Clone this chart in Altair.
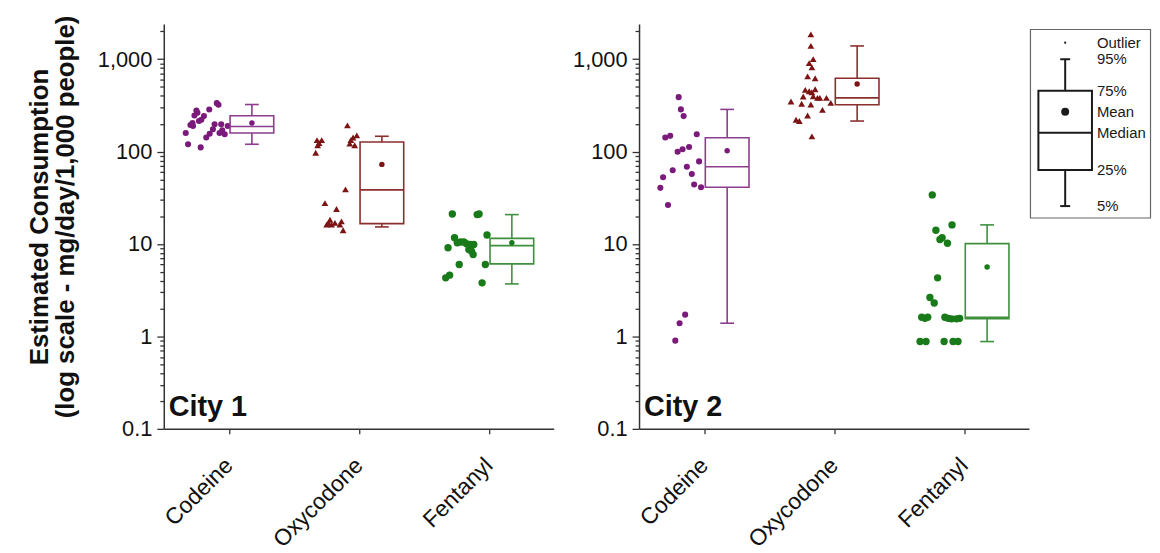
import altair as alt
import pandas as pd

DRUGS = ["Codeine", "Oxycodone", "Fentanyl"]

# ---- City 1 sample values (mg/day/1,000 people) and horizontal jitter (category units)
c1_codeine_vals = [334, 321, 285, 278, 263, 246, 242, 221, 214, 204, 194, 189, 197, 197, 189, 174, 170, 159, 154, 156, 159, 142, 120, 111]
c1_codeine_jit = [-0.092, -0.079, -0.150, -0.249, -0.241, -0.264, -0.191, -0.211, -0.229, -0.279, -0.295, -0.275, -0.109, -0.058, -0.008, -0.122, -0.050, -0.071, -0.031, -0.147, -0.331, -0.173, -0.313, -0.216]
c1_oxy_vals = [192, 133, 133, 124, 117, 97, 142, 133, 150, 122, 117, 39, 27.7, 23.9, 18.3, 16.9, 16.2, 16.9, 16.2, 17.6, 14.1, 16.2]
c1_oxy_jit = [-0.087, -0.321, -0.285, -0.305, -0.316, -0.331, -0.044, -0.061, -0.015, -0.069, -0.031, -0.102, -0.260, -0.171, -0.221, -0.234, -0.209, -0.183, -0.145, -0.133, -0.120, -0.247]
c1_fent_vals = [21.1, 20.8, 21.1, 12.5, 11.7, 10.3, 10.5, 10.5, 10.05, 9.9, 9.9, 8.7, 8.4, 7.7, 9.1, 6.0, 6.0, 4.6, 4.3, 3.8]
c1_fent_jit = [-0.280, -0.089, -0.074, -0.013, -0.263, -0.242, -0.217, -0.191, -0.171, -0.140, -0.115, -0.153, -0.133, -0.120, -0.313, -0.227, -0.026, -0.301, -0.331, -0.051]

# ---- City 2
c2_codeine_vals = [388, 286, 242, 142, 148, 154, 99.5, 106, 112, 78.3, 62.7, 68.6, 57.2, 52.7, 40.5, 44, 41.1, 26.4, 1.72, 1.39, 0.90]
c2_codeine_jit = [-0.195, -0.178, -0.157, -0.298, -0.260, -0.056, -0.203, -0.165, -0.115, -0.038, -0.241, -0.132, -0.094, -0.315, -0.336, -0.076, -0.023, -0.277, -0.145, -0.188, -0.221]
c2_oxy_vals = [1857, 1390, 1000, 906, 815, 652, 621, 465, 450, 439, 473, 394, 397, 381, 381, 381, 348, 329, 323, 337, 283, 246, 221, 214, 146]
c2_oxy_jit = [-0.178, -0.178, -0.160, -0.191, -0.170, -0.203, -0.145, -0.221, -0.191, -0.170, -0.145, -0.237, -0.160, -0.127, -0.109, -0.058, -0.331, -0.249, -0.178, -0.025, -0.089, -0.203, -0.292, -0.267, -0.170]
c2_fent_vals = [34.0, 14.1, 16.1, 11.2, 11.7, 10.2, 4.3, 2.64, 2.30, 1.61, 1.57, 1.61, 1.61, 1.57, 1.55, 1.55, 1.57, 0.88, 0.88, 0.88, 0.88, 0.88]
c2_fent_jit = [-0.244, -0.216, -0.092, -0.185, -0.168, -0.127, -0.203, -0.262, -0.229, -0.325, -0.300, -0.279, -0.147, -0.122, -0.096, -0.058, -0.033, -0.338, -0.292, -0.153, -0.084, -0.046]

# ---- Box statistics: [5%, 25%, median, 75%, 95%, mean]
STAT_NAMES = ["p5", "p25", "median", "p75", "p95", "mean"]
c1_codeine_box = [120, 159, 187, 244, 323, 204]
c1_oxy_box = [15.3, 16.6, 38.5, 127, 146.5, 72.7]
c1_fent_box = [3.7, 6.1, 9.6, 11.5, 20.8, 10.3]
c2_codeine_box = [1.39, 41.1, 68.6, 141, 286, 102]
c2_oxy_box = [214, 321, 381, 621, 1390, 539]
c2_fent_box = [0.88, 1.55, 1.61, 10.1, 16.1, 5.65]

# ---- legend key labels
LEGEND_LABELS = ["Outlier", "95%", "75%", "Mean", "Median", "25%", "5%"]

# ---- styles / layout
PT_COLORS = ["#7a1a7a", "#7d1414", "#197a19"]
BOX_COLORS = ["#8c3d8c", "#8b2e2e", "#3f8f3f"]
SHAPES = ["circle", "triangle-up", "circle"]
PT_SIZES = [38, 55, 38]
FONT = "Liberation Sans"
W = 393
H = 408
BOX_OFF = 0.178
BOX_HALF = 0.168
CAP_HALF = 0.053
# legend key geometry (pixels, relative to the right panel's plot origin)
LG_X0 = W + 1.5
LG_FRAME = (0, 121, 5.5, 195.5)          # x0, x1, y0, y1
LG_BOX = (8, 62)                         # box left/right
LG_CX = 35
LG_CAP = 5
LG_ROWS = [18.8, 35.5, 67.2, 88.5, 109.5, 147.2, 183.5]  # outlier,95,75,mean,median,25,5
LG_TEXT_X = 67

city_data = {
    "City 1": {
        "pts": [(c1_codeine_vals, c1_codeine_jit), (c1_oxy_vals, c1_oxy_jit), (c1_fent_vals, c1_fent_jit)],
        "box": [c1_codeine_box, c1_oxy_box, c1_fent_box],
    },
    "City 2": {
        "pts": [(c2_codeine_vals, c2_codeine_jit), (c2_oxy_vals, c2_oxy_jit), (c2_fent_vals, c2_fent_jit)],
        "box": [c2_codeine_box, c2_oxy_box, c2_fent_box],
    },
}

ytick_vals = [m * 10.0 ** e for e in range(-1, 4) for m in range(1, 10)]
ytick_vals = [v for v in ytick_vals if v <= 2400]
is_decade = "abs(log(datum.value)/LN10 - round(log(datum.value)/LN10)) < 0.001"

label_expr = "[" + ",".join("'%s'" % d for d in DRUGS) + "][round(datum.value)]"

xscale = alt.Scale(domain=[-0.5, 2.5], nice=False, zero=False)
yscale = alt.Scale(type="log", domain=[0.1, 2400], nice=False)
pt_color = alt.Scale(domain=DRUGS, range=PT_COLORS)
box_color = alt.Scale(domain=DRUGS, range=BOX_COLORS)
one = pd.DataFrame({"k": [0]})
K = "#1a1a1a"


def legend_layers():
    x = lambda v: alt.value(LG_X0 + v)
    y = lambda v: alt.value(v)
    fx0, fx1, fy0, fy1 = LG_FRAME
    bx0, bx1 = LG_BOX
    r_out, r95, r75, r_mean, r_med, r25, r5 = LG_ROWS
    base = alt.Chart(one)
    layers = [
        base.mark_rect(fillOpacity=0, stroke="#666666", strokeWidth=1.2).encode(x=x(fx0), x2=x(fx1), y=y(fy0), y2=y(fy1)),
        base.mark_rect(fillOpacity=0, stroke=K, strokeWidth=2).encode(x=x(bx0), x2=x(bx1), y=y(r75), y2=y(r25)),
        base.mark_rule(color=K, strokeWidth=2).encode(x=x(bx0), x2=x(bx1), y=y(r_med)),
        base.mark_rule(color=K, strokeWidth=2).encode(x=x(LG_CX), y=y(r95), y2=y(r75)),
        base.mark_rule(color=K, strokeWidth=2).encode(x=x(LG_CX), y=y(r25), y2=y(r5)),
        base.mark_rule(color=K, strokeWidth=2).encode(x=x(LG_CX - LG_CAP), x2=x(LG_CX + LG_CAP), y=y(r95)),
        base.mark_rule(color=K, strokeWidth=2).encode(x=x(LG_CX - LG_CAP), x2=x(LG_CX + LG_CAP), y=y(r5)),
        base.mark_point(filled=True, color=K, size=64, opacity=1).encode(x=x(LG_CX), y=y(r_mean)),
        base.mark_point(filled=True, color=K, size=5, opacity=1).encode(x=x(LG_CX), y=y(r_out)),
    ]
    for lab, row in zip(LEGEND_LABELS, LG_ROWS):
        layers.append(
            alt.Chart(pd.DataFrame({"t": [lab]})).mark_text(
                align="left", baseline="middle", fontSize=15, font=FONT, color=K
            ).encode(text="t:N", x=x(LG_TEXT_X), y=y(row))
        )
    return layers


def make_city(city, with_title, with_legend):
    d = city_data[city]
    rows = []
    for i, drug in enumerate(DRUGS):
        vals, jit = d["pts"][i]
        for v, j in zip(vals, jit):
            rows.append({"drug": drug, "value": v, "x": i + j})
    pts = pd.DataFrame(rows)
    brows = []
    for i, drug in enumerate(DRUGS):
        rec = dict(zip(STAT_NAMES, d["box"][i]))
        rec["drug"] = drug
        rec["cx"] = i + BOX_OFF
        rec["x0"] = i + BOX_OFF - BOX_HALF
        rec["x1"] = i + BOX_OFF + BOX_HALF
        rec["c0"] = i + BOX_OFF - CAP_HALF
        rec["c1"] = i + BOX_OFF + CAP_HALF
        brows.append(rec)
    box = pd.DataFrame(brows)

    yaxis = alt.Axis(
        values=ytick_vals,
        labelExpr=is_decade + " ? format(datum.value, ',') : ''",
        tickSize={"condition": {"test": is_decade, "value": 7}, "value": 4},
        labelOverlap=False,
        grid=False,
        labelPadding=5,
        title=["Estimated Consumption", "(log scale - mg/day/1,000 people)"] if with_title else None,
        titleFontSize=26,
        titleLineHeight=26,
        titleFontWeight="bold",
        titlePadding=19,
        titleY=194,
        titleColor="#111111",
    )
    xaxis = alt.Axis(
        values=[0, 1, 2],
        labelExpr=label_expr,
        labelAngle=-45,
        labelAlign="right",
        labelBaseline="middle",
        labelFontSize=23,
        tickSize=5,
        labelPadding=28,
        grid=False,
        title=None,
    )

    base_b = alt.Chart(box)
    points = alt.Chart(pts).mark_point(filled=True, opacity=1).encode(
        x=alt.X("x:Q", scale=xscale, axis=xaxis),
        y=alt.Y("value:Q", scale=yscale, axis=yaxis),
        color=alt.Color("drug:N", scale=pt_color, legend=None),
        shape=alt.Shape("drug:N", scale=alt.Scale(domain=DRUGS, range=SHAPES), legend=None),
        size=alt.Size("drug:N", scale=alt.Scale(domain=DRUGS, range=PT_SIZES), legend=None),
    )
    stroke = alt.Stroke("drug:N", scale=box_color, legend=None)
    rect = base_b.mark_rect(fillOpacity=0, strokeWidth=1.6).encode(
        x="x0:Q", x2="x1:Q", y="p25:Q", y2="p75:Q", stroke=stroke)
    med = base_b.mark_rule(strokeWidth=1.6).encode(x="x0:Q", x2="x1:Q", y="median:Q", stroke=stroke)
    wh_up = base_b.mark_rule(strokeWidth=1.6).encode(x="cx:Q", y="p75:Q", y2="p95:Q", stroke=stroke)
    wh_dn = base_b.mark_rule(strokeWidth=1.6).encode(x="cx:Q", y="p5:Q", y2="p25:Q", stroke=stroke)
    cap_up = base_b.mark_rule(strokeWidth=1.6).encode(x="c0:Q", x2="c1:Q", y="p95:Q", stroke=stroke)
    cap_dn = base_b.mark_rule(strokeWidth=1.6).encode(x="c0:Q", x2="c1:Q", y="p5:Q", stroke=stroke)
    mean = base_b.mark_point(filled=True, size=30, opacity=1).encode(
        x="cx:Q", y="mean:Q", color=alt.Color("drug:N", scale=pt_color, legend=None))
    label = alt.Chart(pd.DataFrame({"t": [city]})).mark_text(
        align="left", baseline="alphabetic", fontSize=29, fontWeight="bold", font=FONT, color="#111111"
    ).encode(text="t:N", x=alt.value(5), y=alt.value(395.5))
    layers = [points, rect, med, wh_up, wh_dn, cap_up, cap_dn, mean, label]
    if with_legend:
        layers += legend_layers()
    return alt.layer(*layers).properties(width=W, height=H)


c1 = make_city("City 1", True, False)
c2 = make_city("City 2", False, True)

chart = alt.hconcat(c1, c2, spacing=86, bounds="flush").properties(
    padding={"left": 18, "top": 4, "right": 0, "bottom": 0}
).configure(font=FONT).configure_view(strokeWidth=0, stroke="transparent").configure_axis(
    domainColor="#333333", domainWidth=1.5, tickColor="#333333", tickWidth=1.3,
    labelFont=FONT, labelFontSize=22, labelColor="#111111", titleFont=FONT,
)

chart.save("out.html", embed_options={"renderer": "svg", "actions": False})
